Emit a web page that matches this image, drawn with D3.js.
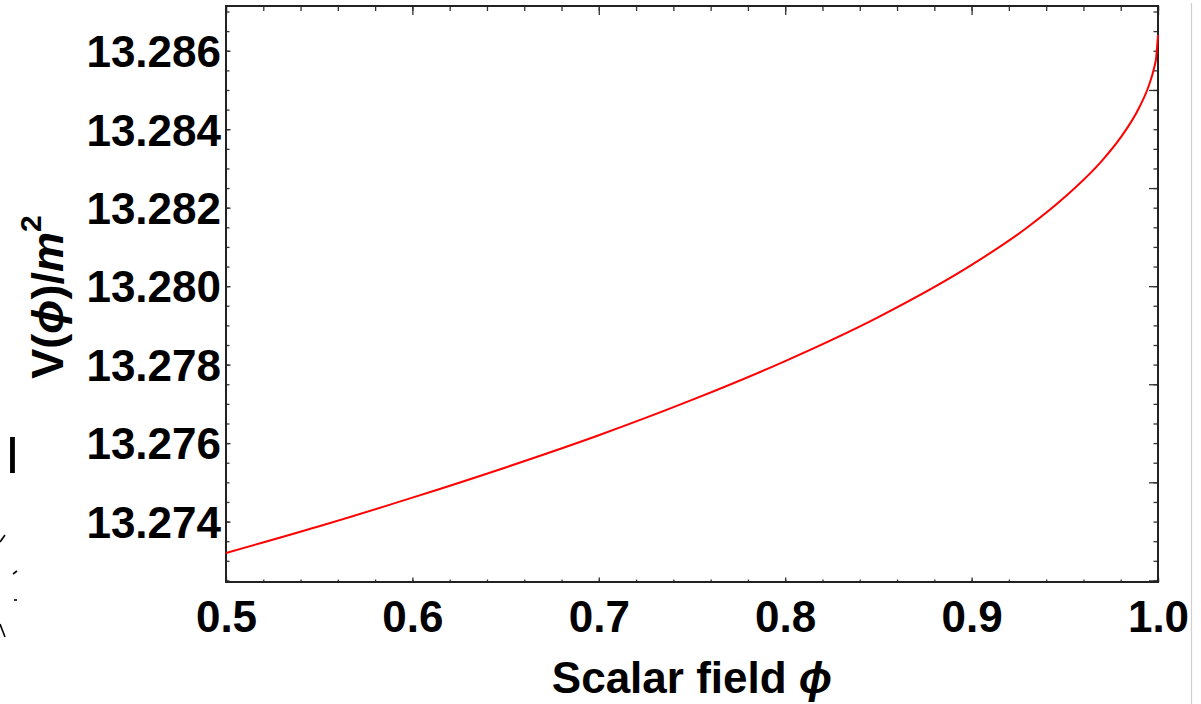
<!DOCTYPE html>
<html>
<head>
<meta charset="utf-8">
<script src="https://cdnjs.cloudflare.com/ajax/libs/d3/7.8.5/d3.min.js"></script>
<style>
  body { margin: 0; background: #fff; }
  svg { display: block; font-family: "Liberation Sans", Arial, sans-serif; }
</style>
</head>
<body>
<svg id="chart" width="1201" height="704"></svg>
<script>
// curve: scalar field phi vs V(phi)/m^2
var phi = [0.50, 0.55, 0.60, 0.65, 0.70, 0.75, 0.80, 0.85, 0.90, 0.93, 0.95, 0.97, 0.98, 0.99, 0.995, 0.998, 0.999, 1.0];
var pot = [13.27320, 13.27388, 13.27461, 13.27538, 13.27620, 13.27710, 13.27809, 13.27921, 13.28054, 13.28150, 13.28227, 13.28320, 13.28379, 13.28456, 13.28510, 13.28558, 13.28582, 13.28640];

var xTicks = [0.5, 0.6, 0.7, 0.8, 0.9, 1.0];
var yTicks = [13.274, 13.276, 13.278, 13.280, 13.282, 13.284, 13.286];

var svg = d3.select("#chart");
// note: "top" is taken by window.top, so use other names
var pLeft = 226, pRight = 1158, pTop = 6, pBottom = 582;

var x = d3.scaleLinear().domain([0.5, 1.0]).range([pLeft, pRight]);
var y = d3.scaleLinear().domain([13.27246, 13.28714]).range([pBottom, pTop]);

// minor ticks
var xMinor = d3.range(0, 26).map(function (i) { return 0.5 + i * 0.02; });
var yMinor = d3.range(0, 30).map(function (i) { return 13.2725 + i * 0.0005; });
var yRightMajor = [13.2725, 13.275, 13.2775, 13.280, 13.2825, 13.285];

function clean(g) {
  g.select(".domain").remove();
  g.selectAll("line").attr("stroke", "#333").attr("stroke-width", 1.3);
}

// bottom
svg.append("g").attr("transform", "translate(0," + pBottom + ")")
  .call(d3.axisBottom(x).tickValues(xMinor).tickSize(-2.5).tickFormat(""))
  .call(clean);
var gx = svg.append("g").attr("transform", "translate(0," + pBottom + ")")
  .call(d3.axisBottom(x).tickValues(xTicks).tickSize(-4.5).tickPadding(18.5).tickFormat(d3.format(".1f")))
  .call(clean);
gx.selectAll("text").attr("font-size", 44).attr("font-weight", "bold").attr("fill", "#000")
  .attr("font-family", "Liberation Sans, Arial, sans-serif");

// top
svg.append("g").attr("transform", "translate(0," + pTop + ")")
  .call(d3.axisTop(x).tickValues(xMinor).tickSize(-5).tickFormat(""))
  .call(clean);
svg.append("g").attr("transform", "translate(0," + pTop + ")")
  .call(d3.axisTop(x).tickValues(xTicks).tickSize(-9).tickFormat(""))
  .call(clean);

// left
svg.append("g").attr("transform", "translate(" + pLeft + ",0)")
  .call(d3.axisLeft(y).tickValues(yMinor).tickSize(-3.5).tickFormat(""))
  .call(clean);
var gy = svg.append("g").attr("transform", "translate(" + pLeft + ",0)")
  .call(d3.axisLeft(y).tickValues(yTicks).tickSize(-4.5).tickPadding(5).tickFormat(d3.format(".3f")))
  .call(clean);
gy.selectAll("text").attr("font-size", 44).attr("font-weight", "bold").attr("fill", "#000")
  .attr("dy", "0.36em").attr("font-family", "Liberation Sans, Arial, sans-serif");

// right
svg.append("g").attr("transform", "translate(" + pRight + ",0)")
  .call(d3.axisRight(y).tickValues(yMinor).tickSize(-4.5).tickFormat(""))
  .call(clean);
svg.append("g").attr("transform", "translate(" + pRight + ",0)")
  .call(d3.axisRight(y).tickValues(yRightMajor).tickSize(-9).tickFormat(""))
  .call(clean);

// frame
svg.append("rect")
  .attr("x", pLeft).attr("y", pTop)
  .attr("width", pRight - pLeft).attr("height", pBottom - pTop)
  .attr("fill", "none").attr("stroke", "#222").attr("stroke-width", 2);

// curve
var line = d3.line()
  .x(function (d, i) { return x(phi[i]); })
  .y(function (d) { return y(d); })
  .curve(d3.curveMonotoneX);

svg.append("path")
  .datum(pot)
  .attr("d", line)
  .attr("fill", "none")
  .attr("stroke", "#ff0000")
  .attr("stroke-width", 2);

// axis titles
var xt = svg.append("text")
  .attr("x", 692).attr("y", 693)
  .attr("text-anchor", "middle")
  .attr("font-size", 44).attr("font-weight", "bold");
xt.append("tspan").text("Scalar field ");
xt.append("tspan").attr("font-style", "italic").text("ϕ");

var yt = svg.append("text")
  .attr("transform", "translate(63,297) rotate(-90)")
  .attr("text-anchor", "middle")
  .attr("font-size", 45).attr("font-weight", "bold");
yt.append("tspan").text("V(");
yt.append("tspan").attr("font-style", "italic").text("ϕ");
yt.append("tspan").text(")/");
yt.append("tspan").attr("font-style", "italic").text("m");
yt.append("tspan").attr("font-size", 30).attr("dy", -22).text("2");

// bits of a neighbouring figure cut off at the left edge
svg.append("text").attr("x", 12.5).attr("y", 473)
  .attr("text-anchor", "middle").attr("font-size", 52).text("I");
var bits = svg.append("g").attr("stroke", "#000").attr("stroke-width", 1.6).attr("fill", "none");
bits.append("path").attr("d", "M0,542 L5,535");
bits.append("path").attr("d", "M13,574 L17,571");
bits.append("path").attr("d", "M14,600 L17,600");
bits.append("path").attr("d", "M0,624 L5,637");

// page edge line on the right
svg.append("line")
  .attr("x1", 1191.5).attr("x2", 1191.5).attr("y1", 3).attr("y2", 704)
  .attr("stroke", "#cfcfcf").attr("stroke-width", 1.2);
</script>
</body>
</html>
